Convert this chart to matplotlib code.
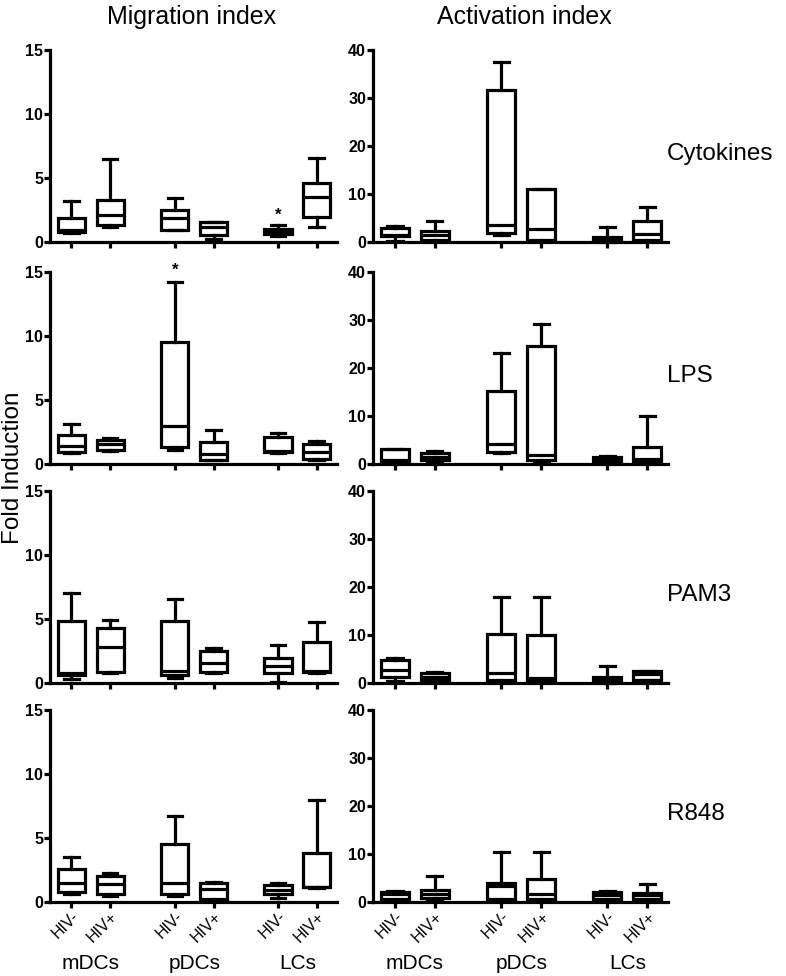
import matplotlib
matplotlib.use("Agg")
import matplotlib.pyplot as plt

plt.rcParams['font.family'] = ['Liberation Sans', 'DejaVu Sans']

# posicoes das caixas (mDCs, pDCs, LCs; HIV- / HIV+)
grupos = ["mDCs", "pDCs", "LCs"]
rotulos_hiv = ["HIV-", "HIV+", "HIV-", "HIV+", "HIV-", "HIV+"]
posicoes = [1, 2, 3.67, 4.67, 6.33, 7.33]
estimulos = ["Cytokines", "LPS", "PAM3", "R848"]

# cada caixa: (min, q1, mediana, q3, max)
migracao_cytokines = [(0.7, 0.8, 0.9, 1.85, 3.2), (1.2, 1.3, 2.1, 3.3, 6.5),
                      (0.9, 0.95, 1.85, 2.5, 3.45), (0.25, 0.55, 1.2, 1.55, 1.6),
                      (0.5, 0.6, 0.85, 1.05, 1.35), (1.15, 1.95, 3.55, 4.6, 6.55)]
migracao_lps = [(0.85, 0.9, 1.4, 2.3, 3.1), (1.05, 1.1, 1.55, 1.85, 2.0),
                (1.1, 1.35, 2.95, 9.5, 14.2), (0.3, 0.35, 0.8, 1.75, 2.65),
                (0.85, 0.9, 1.05, 2.1, 2.45), (0.35, 0.4, 0.95, 1.55, 1.8)]
migracao_pam3 = [(0.3, 0.6, 0.8, 4.85, 7.05), (0.8, 0.85, 2.8, 4.3, 4.9),
                 (0.4, 0.6, 0.9, 4.85, 6.6), (0.8, 0.85, 1.6, 2.5, 2.7),
                 (0.1, 0.8, 1.3, 1.95, 3.0), (0.8, 0.85, 0.9, 3.2, 4.8)]
migracao_r848 = [(0.65, 0.8, 1.5, 2.55, 3.55), (0.5, 0.6, 1.4, 2.0, 2.3),
                 (0.5, 0.6, 1.5, 4.5, 6.75), (0.15, 0.2, 1.05, 1.5, 1.6),
                 (0.3, 0.65, 0.95, 1.3, 1.5), (1.1, 1.15, 1.2, 3.85, 8.0)]

ativacao_cytokines = [(0.3, 1.2, 1.5, 2.9, 3.3), (0.2, 0.5, 1.5, 2.2, 4.3),
                      (1.5, 1.9, 3.6, 31.6, 37.6), (0.3, 0.5, 2.75, 11.0, 11.1),
                      (0.1, 0.3, 0.7, 1.0, 3.2), (0.3, 0.5, 1.7, 4.3, 7.2)]
ativacao_lps = [(0.3, 0.55, 0.75, 3.1, 3.2), (0.5, 0.75, 1.55, 2.25, 2.7),
                (2.2, 2.6, 4.15, 15.2, 23.2), (0.5, 0.9, 1.9, 24.6, 29.2),
                (0.2, 0.35, 0.9, 1.4, 1.6), (0.3, 0.55, 1.0, 3.5, 10.1)]
ativacao_pam3 = [(0.35, 1.2, 2.7, 4.75, 5.2), (0.3, 0.55, 1.3, 2.0, 2.3),
                 (0.3, 0.7, 2.0, 10.3, 17.9), (0.2, 0.35, 1.0, 10.05, 17.9),
                 (0.1, 0.35, 0.7, 1.2, 3.5), (0.6, 0.7, 1.85, 2.4, 2.6)]
ativacao_r848 = [(0.3, 0.55, 1.6, 2.1, 2.35), (0.3, 0.9, 1.6, 2.4, 5.4),
                 (0.3, 0.7, 3.3, 4.0, 10.4), (0.3, 0.7, 1.6, 4.85, 10.4),
                 (0.3, 0.55, 1.5, 2.1, 2.3), (0.4, 0.7, 1.4, 1.9, 3.7)]

migracao = [migracao_cytokines, migracao_lps, migracao_pam3, migracao_r848]
ativacao = [ativacao_cytokines, ativacao_lps, ativacao_pam3, ativacao_r848]

# asteriscos: (linha, indice da caixa, altura)
asteriscos = [(0, 4, 2.1), (1, 2, 15.1)]

W, H = 786, 976
fig = plt.figure(figsize=(W / 100, H / 100), dpi=100)

zeros_px = [242, 464, 683, 902]
altura_px = 192


def desenha_caixas(ax, caixas, ymax, ticks):
    stats = []
    for (lo, q1, med, q3, hi) in caixas:
        stats.append(dict(whislo=lo, q1=q1, med=med, q3=q3, whishi=hi, fliers=[]))
    estilo = dict(color='black', linewidth=2.3)
    art = ax.bxp(stats, positions=posicoes, widths=0.7, capwidths=0.38,
                 showfliers=False, patch_artist=True,
                 boxprops=dict(facecolor='white', edgecolor='black', linewidth=2.3),
                 medianprops=estilo, whiskerprops=estilo, capprops=estilo)
    for chave in art:
        for a in art[chave]:
            a.set_clip_on(False)
    ax.set_xlim(0.45, 7.85)
    ax.set_ylim(0, ymax)
    ax.set_yticks(ticks)
    ax.spines['top'].set_visible(False)
    ax.spines['right'].set_visible(False)
    ax.spines['left'].set_linewidth(2.3)
    ax.spines['bottom'].set_linewidth(2.3)
    ax.tick_params(axis='both', width=2.3, length=4, labelsize=11.5, pad=1)
    for t in ax.get_yticklabels():
        t.set_fontweight('bold')
    ax.set_xticks(posicoes)
    ax.set_facecolor('none')


for i in range(4):
    base = (H - zeros_px[i]) / H
    alt = altura_px / H
    ax1 = fig.add_axes([50 / W, base, 287 / W, alt])
    desenha_caixas(ax1, migracao[i], 15, [0, 5, 10, 15])
    ax2 = fig.add_axes([373 / W, base, 295 / W, alt])
    desenha_caixas(ax2, ativacao[i], 40, [0, 10, 20, 30, 40])

    for (linha, idx, y) in asteriscos:
        if linha == i:
            ax1.text(posicoes[idx], y, "*", ha='center', va='center',
                     fontsize=12, fontweight='bold', clip_on=False)

    for ax in (ax1, ax2):
        if i == 3:
            ax.set_xticklabels(rotulos_hiv, rotation=45, ha='right',
                               rotation_mode='anchor', fontsize=11.5)
            for k, g in enumerate(grupos):
                xc = (posicoes[2 * k] + posicoes[2 * k + 1]) / 2
                ax.text(xc, -0.32, g, transform=ax.get_xaxis_transform(),
                        ha='center', va='center', fontsize=15)
        else:
            ax.set_xticklabels([])

    fig.text(667 / W, 1 - (zeros_px[i] - 88) / H, estimulos[i],
             ha='left', va='center', fontsize=17.5)

fig.text(192 / W, 1 - 17 / H, "Migration index", ha='center', va='center', fontsize=18)
fig.text(524 / W, 1 - 17 / H, "Activation index", ha='center', va='center', fontsize=18)
fig.text(13 / W, 1 - 468 / H, "Fold Induction", ha='center', va='center',
         rotation=90, fontsize=17.5)

fig.savefig("out.png", dpi=100)
